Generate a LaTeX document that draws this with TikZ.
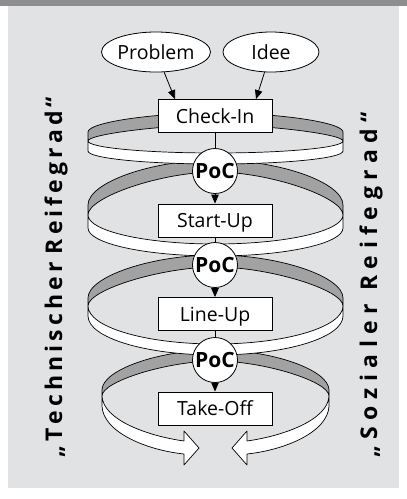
\documentclass[tikz,border=0pt]{standalone}
\usepackage{fontspec}
\setmainfont{Open Sans}
\usetikzlibrary{arrows.meta,shapes.geometric}
\definecolor{bgl}{HTML}{E1E2E4}
\definecolor{bgd}{HTML}{8E8E90}
\definecolor{bandgray}{HTML}{A2A2A2}
% grey back part: #1 half width a, #2 grey top at extreme, #3 junction at extreme,
% #4 grey top at centre, #5 grey bottom at centre
\newcommand\ringgray[5]{%
  \pgfmathsetmacro\rxl{215.5-#1}\pgfmathsetmacro\rxr{215.5+#1}%
  \pgfmathsetmacro\rkx{0.5*#1}\pgfmathsetmacro\rkb{0.42*#1}%
  \pgfmathsetmacro\rca{#2-0.5*(#2-#4)}\pgfmathsetmacro\rcb{#3-0.42*(#3-#5)}%
  \filldraw[backband] (\rxl,#2) .. controls (\rxl,\rca) and (215.5-\rkx,#4) .. (215.5,#4)
    .. controls (215.5+\rkx,#4) and (\rxr,\rca) .. (\rxr,#2) -- (\rxr,#3)
    .. controls (\rxr,\rcb) and (215.5+\rkb,#5) .. (215.5,#5)
    .. controls (215.5-\rkb,#5) and (\rxl,\rcb) .. (\rxl,#3) -- cycle;}
% white front part: #1 a, #2 junction, #3 white bottom at extreme, #4 white top centre, #5 white bottom centre
\newcommand\ringwhite[5]{%
  \pgfmathsetmacro\rxl{215.5-#1}\pgfmathsetmacro\rxr{215.5+#1}%
  \pgfmathsetmacro\rkx{0.5523*#1}%
  \pgfmathsetmacro\rca{#2+0.5523*(#4-#2)}\pgfmathsetmacro\rcb{#3+0.5523*(#5-#3)}%
  \filldraw[frontband] (\rxl,#2) .. controls (\rxl,\rca) and (215.5-\rkx,#4) .. (215.5,#4)
    .. controls (215.5+\rkx,#4) and (\rxr,\rca) .. (\rxr,#2) -- (\rxr,#3)
    .. controls (\rxr,\rcb) and (215.5+\rkx,#5) .. (215.5,#5)
    .. controls (215.5-\rkx,#5) and (\rxl,\rcb) .. (\rxl,#3) -- cycle;}
\begin{document}
\begin{tikzpicture}[x=1pt,y=-1pt,
  backband/.style={fill=bandgray,draw=black,line width=0.7pt,line join=round},
  frontband/.style={fill=white,draw=black,line width=0.7pt,line join=round},
  stagebox/.style={draw=black,fill=white,line width=0.8pt,minimum width=114pt,minimum height=33pt,inner sep=0pt,text height=14pt,text depth=0pt,font=\fontsize{19.5}{22}\selectfont},
  pocnode/.style={circle,draw=black,fill=white,line width=0.8pt,minimum size=45pt,inner sep=0pt,text height=14.5pt,text depth=0pt,font=\bfseries\fontsize{21}{22}\selectfont},
  ellnode/.style={ellipse,draw=black,fill=white,line width=0.8pt,minimum height=40pt,inner sep=0pt,text height=14pt,text depth=0pt,font=\fontsize{19.5}{22}\selectfont},
  conn/.style={line width=0.8pt},
  arr/.style={line width=0.8pt,-{Triangle[length=9pt,width=7.5pt]}},
  vtext/.style={rotate=90,anchor=base west,inner sep=0pt,font=\bfseries\fontsize{23}{23}\selectfont}]
\useasboundingbox (0,0) rectangle (407,499);
\fill[white] (0,0) rectangle (407,499);
\fill[bgl] (8,6) rectangle (399,488);
\fill[bgd] (0,0) rectangle (407,6);
% rings: back parts (inner face, grey)
\ringgray{127.5}{132}{141}{113}{125}
\ringgray{127.5}{205}{215}{160}{172}
\ringgray{127.5}{298}{306}{255}{267}
\ringgray{113.5}{390}{396}{350}{361}
% rings: front parts (outer face, white)
\ringwhite{127.5}{141}{151}{153}{164}
\ringwhite{127.5}{215}{228}{244}{256}
\ringwhite{127.5}{306}{316}{344}{355}
% last ring: two arrows
\filldraw[frontband] (102,396) .. controls (103,420) and (148,436) .. (184,441) -- (184,431) -- (199,448) -- (184,465) -- (184,454) .. controls (146,450) and (103,432) .. (102,406) -- cycle;
\filldraw[frontband] (329,396) .. controls (328,420) and (283,436) .. (247,441) -- (247,431) -- (232,448) -- (247,465) -- (247,454) .. controls (285,450) and (328,432) .. (329,406) -- cycle;
% column
\node[ellnode,minimum width=103pt] (prob) at (156,52) {Problem};
\node[ellnode,minimum width=96pt] (idee) at (271,52) {Idee};
\node[stagebox] (ci) at (215,116) {Check-In};
\node[pocnode] (p1) at (215,171) {PoC};
\node[stagebox] (su) at (215,220.5) {Start-Up};
\node[pocnode] (p2) at (215,265) {PoC};
\node[stagebox] (lu) at (215,314) {Line-Up};
\node[pocnode] (p3) at (215,360) {PoC};
\node[stagebox] (to) at (215,408.5) {Take-Off};
\draw[arr] (prob) -- ([xshift=-40pt]ci.north);
\draw[arr] (idee) -- ([xshift=41pt]ci.north);
\draw[conn] (ci) -- (p1);
\draw[arr] (p1) -- (su);
\draw[conn] (su) -- (p2);
\draw[arr] (p2) -- (lu);
\draw[conn] (lu) -- (p3);
\draw[arr] (p3) -- (to);
% side texts
\node[vtext] (lt) at (62,458) {\hbox to 361pt{„\hfill T\hfill e\hfill c\hfill h\hfill n\hfill i\hfill s\hfill c\hfill h\hfill e\hfill r\hfill\hfill R\hfill e\hfill i\hfill f\hfill e\hfill g\hfill r\hfill a\hfill d\hfill “}};
\node[vtext] (rt) at (377,458) {\hbox to 346pt{„\hfill S\hfill o\hfill z\hfill i\hfill a\hfill l\hfill e\hfill r\hfill\hfill R\hfill e\hfill i\hfill f\hfill e\hfill g\hfill r\hfill a\hfill d\hfill “}};
\end{tikzpicture}
\end{document}
